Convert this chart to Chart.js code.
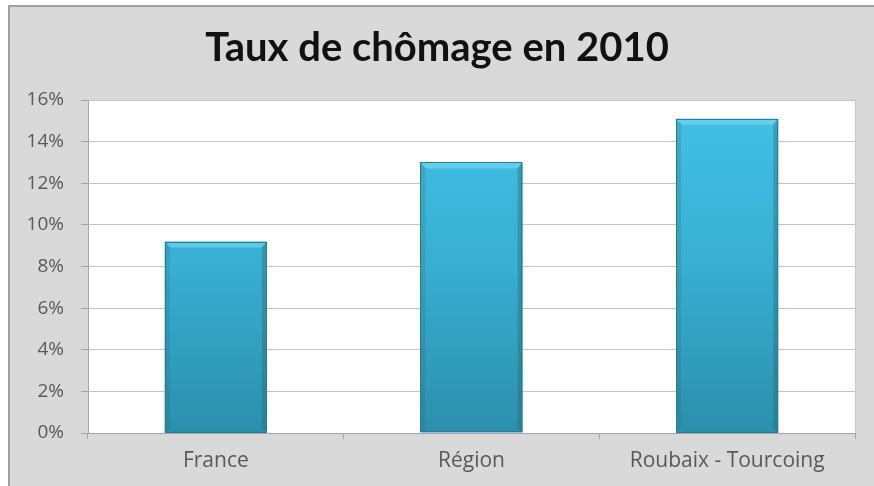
<!DOCTYPE html>
<html>
<head>
<meta charset="utf-8">
<script src="https://cdn.jsdelivr.net/npm/chart.js@4/dist/chart.umd.min.js"></script>
<style>
  html, body { margin: 0; padding: 0; background: #ffffff; }
  #wrap { position: relative; width: 874px; height: 486px; }
  canvas { display: block; }
</style>
</head>
<body>
<div id="wrap"><canvas id="chart" width="874" height="486"></canvas></div>
<script>
// data
var categories = ['France', 'Région', 'Roubaix - Tourcoing'];
var rates = [9.2, 13.0, 15.1];
var yTicks = [0, 2, 4, 6, 8, 10, 12, 14, 16];
var chartTitle = 'Taux de chômage en 2010';

// gray frame + white plot area
var framePlugin = {
  id: 'frame',
  beforeDraw: function (chart) {
    var c = chart.ctx, a = chart.chartArea;
    c.save();
    c.fillStyle = '#ffffff';
    c.fillRect(0, 0, chart.width, chart.height);
    c.fillStyle = '#d9d9d9';
    c.fillRect(8, 5, chart.width - 8, chart.height - 5);
    c.strokeStyle = '#a0a0a0';
    c.lineWidth = 2;
    c.beginPath();
    c.moveTo(9, chart.height);
    c.lineTo(9, 6);
    c.lineTo(chart.width, 6);
    c.stroke();
    c.fillStyle = '#ffffff';
    c.fillRect(a.left, a.top, a.right - a.left, a.bottom - a.top);
    c.strokeStyle = '#c8c8c8';
    c.lineWidth = 1;
    c.strokeRect(a.left + 0.5, a.top + 0.5, a.right - a.left, a.bottom - a.top);
    // title
    c.fillStyle = '#111111';
    c.font = 'bold 40px Lato, "Open Sans", sans-serif';
    c.textAlign = 'center';
    c.textBaseline = 'middle';
    c.fillText(chartTitle, 437, 48);
    c.restore();
  }
};

// bevel highlight on the bars
var bevelPlugin = {
  id: 'bevel',
  afterDatasetsDraw: function (chart) {
    var c = chart.ctx;
    chart.getDatasetMeta(0).data.forEach(function (bar) {
      var l = bar.x - bar.width / 2, r = bar.x + bar.width / 2, t = bar.y, b = bar.base;
      c.save();
      c.fillStyle = 'rgba(130,220,245,0.55)';
      c.beginPath();
      c.moveTo(l, t); c.lineTo(r, t); c.lineTo(r - 6, t + 6); c.lineTo(l + 6, t + 6); c.closePath();
      c.fill();
      c.fillStyle = 'rgba(30,100,125,0.35)';
      c.beginPath();
      c.moveTo(r, t); c.lineTo(r, b); c.lineTo(r - 5, b - 4); c.lineTo(r - 5, t + 6); c.closePath();
      c.fill();
      c.fillStyle = 'rgba(30,100,125,0.2)';
      c.beginPath();
      c.moveTo(l, t); c.lineTo(l, b); c.lineTo(l + 5, b - 4); c.lineTo(l + 5, t + 6); c.closePath();
      c.fill();
      c.strokeStyle = '#2a7c92';
      c.lineWidth = 1;
      c.strokeRect(Math.round(l) + 0.5, Math.round(t) + 0.5, Math.round(r - l) - 1, Math.round(b - t) - 1);
      c.restore();
    });
  }
};

new Chart(document.getElementById('chart'), {
  type: 'bar',
  data: {
    labels: categories,
    datasets: [{
      data: rates,
      barPercentage: 0.4,
      categoryPercentage: 1.0,
      borderWidth: 0,
      backgroundColor: function (ctx) {
        var area = ctx.chart.chartArea;
        if (!area) return '#3ab4d8';
        var g = ctx.chart.ctx.createLinearGradient(0, area.top, 0, area.bottom);
        g.addColorStop(0, '#43c2e6');
        g.addColorStop(0.5, '#38aed2');
        g.addColorStop(1, '#2b8fab');
        return g;
      }
    }]
  },
  options: {
    responsive: false,
    animation: false,
    layout: { padding: { left: 0, right: 19, top: 100, bottom: 0 } },
    plugins: { legend: { display: false }, title: { display: false }, tooltip: { enabled: false } },
    scales: {
      x: {
        grid: { offset: true, drawOnChartArea: false, drawTicks: true, tickLength: 6, color: '#a6a6a6' },
        border: { color: '#a6a6a6' },
        ticks: { color: '#595959', font: { family: '"Open Sans", sans-serif', size: 21 }, padding: 9 },
        afterFit: function (s) { s.height = 53; }
      },
      y: {
        min: 0,
        max: 16,
        afterBuildTicks: function (s) { s.ticks = yTicks.map(function (v) { return { value: v }; }); },
        grid: { color: '#c4c4c4', tickLength: 7, tickColor: '#a6a6a6' },
        border: { color: '#a6a6a6' },
        ticks: {
          color: '#595959',
          font: { family: '"Open Sans", sans-serif', size: 19 },
          padding: 17,
          callback: function (v) { return v + '%'; }
        },
        afterFit: function (s) { s.width = 88; }
      }
    }
  },
  plugins: [framePlugin, bevelPlugin]
});
</script>
</body>
</html>
